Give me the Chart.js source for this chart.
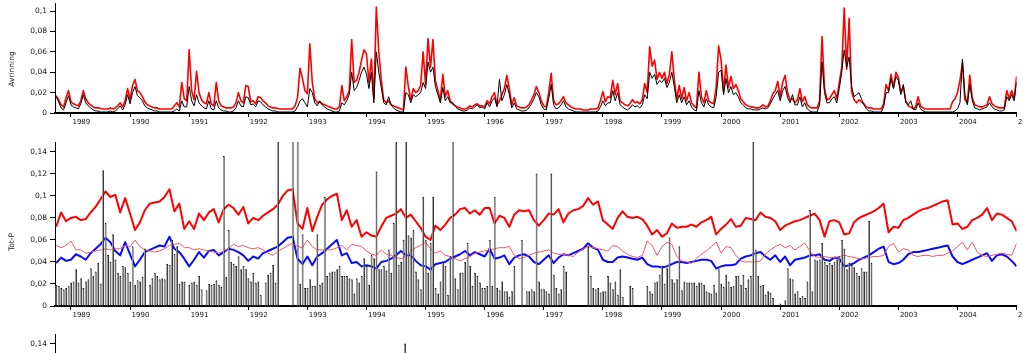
<!DOCTYPE html>
<html><head><meta charset="utf-8">
<script src="https://cdn.jsdelivr.net/npm/chart.js@4.4.1/dist/chart.umd.min.js"></script>
<style>
html,body{margin:0;padding:0;background:#fff;overflow:hidden;width:1023px;height:353px;}
canvas{position:absolute;left:0;}
</style></head><body>
<canvas id="c1" width="1023" height="130" style="top:0px"></canvas>
<canvas id="c2" width="1023" height="193" style="top:130px"></canvas>
<canvas id="c3" width="1023" height="193" style="top:322px"></canvas>
<script>
// ---- axis ----
const xMin = 1988.73, xMax = 2005;
const yearTicks = [1989,1990,1991,1992,1993,1994,1995,1996,1997,1998,1999,2000,2001,2002,2003,2004,2005];
const runoffTicks = [0,0.02,0.04,0.06,0.08,0.1];
const totPTicks = [0,0.02,0.04,0.06,0.08,0.1,0.12,0.14];

// ---- top panel: Avrinning, half-monthly from 1988.75 ----
const runoffStart = 1988.75, runoffStep = 1/24;
const runoffRed = [
0.017,0.013,0.008,0.006,0.015,0.022,0.011,0.009,0.008,0.007,
0.012,0.022,0.014,0.010,0.008,0.006,0.005,0.005,0.0045,0.004,
0.004,0.004,0.005,0.004,0.005,0.007,0.010,0.006,0.012,0.024,
0.013,0.027,0.033,0.022,0.020,0.016,0.011,0.008,0.007,0.006,
0.005,0.005,0.004,0.004,0.004,0.004,0.004,0.004,0.007,0.010,
0.006,0.030,0.014,0.012,0.062,0.022,0.013,0.041,0.020,0.013,
0.010,0.009,0.020,0.009,0.007,0.030,0.012,0.007,0.006,0.005,
0.005,0.005,0.006,0.010,0.020,0.012,0.010,0.027,0.026,0.011,
0.012,0.009,0.016,0.015,0.012,0.010,0.007,0.006,0.005,0.005,
0.0045,0.004,0.004,0.004,0.004,0.004,0.004,0.007,0.015,0.044,
0.034,0.022,0.019,0.068,0.030,0.014,0.010,0.011,0.009,0.008,
0.007,0.006,0.005,0.004,0.004,0.006,0.027,0.012,0.016,0.022,
0.072,0.030,0.032,0.040,0.052,0.062,0.058,0.030,0.053,0.014,
0.104,0.060,0.033,0.013,0.010,0.012,0.008,0.007,0.006,0.005,
0.004,0.003,0.045,0.026,0.013,0.024,0.020,0.022,0.027,0.060,
0.028,0.073,0.045,0.072,0.032,0.022,0.013,0.038,0.016,0.022,
0.012,0.009,0.007,0.006,0.005,0.004,0.004,0.005,0.007,0.006,
0.008,0.009,0.007,0.007,0.006,0.012,0.009,0.016,0.020,0.008,
0.012,0.018,0.024,0.037,0.024,0.008,0.015,0.007,0.006,0.005,
0.005,0.006,0.008,0.013,0.018,0.026,0.020,0.012,0.007,0.006,
0.020,0.039,0.012,0.008,0.009,0.012,0.016,0.010,0.008,0.006,
0.005,0.004,0.004,0.004,0.003,0.003,0.003,0.004,0.004,0.004,
0.005,0.012,0.021,0.011,0.016,0.015,0.032,0.018,0.029,0.012,
0.010,0.008,0.007,0.009,0.013,0.010,0.011,0.009,0.013,0.029,
0.020,0.065,0.046,0.052,0.033,0.040,0.034,0.040,0.029,0.038,
0.060,0.033,0.014,0.027,0.014,0.025,0.012,0.020,0.010,0.007,
0.005,0.040,0.016,0.010,0.022,0.012,0.010,0.009,0.025,0.066,
0.052,0.022,0.047,0.025,0.036,0.024,0.028,0.022,0.014,0.011,
0.008,0.007,0.006,0.006,0.005,0.005,0.006,0.008,0.006,0.007,
0.012,0.019,0.022,0.031,0.016,0.030,0.037,0.020,0.013,0.014,
0.010,0.013,0.024,0.011,0.016,0.008,0.006,0.005,0.005,0.005,
0.012,0.075,0.024,0.013,0.014,0.018,0.022,0.014,0.030,0.045,
0.103,0.043,0.093,0.021,0.013,0.010,0.013,0.011,0.009,0.006,
0.005,0.005,0.004,0.004,0.004,0.004,0.009,0.028,0.022,0.038,
0.025,0.040,0.035,0.020,0.026,0.012,0.007,0.006,0.004,0.006,
0.016,0.007,0.005,0.004,0.004,0.004,0.004,0.004,0.004,0.004,
0.004,0.004,0.004,0.004,0.011,0.014,0.020,0.032,0.049,0.013,
0.010,0.037,0.015,0.008,0.007,0.006,0.006,0.007,0.008,0.016,
0.009,0.007,0.006,0.005,0.005,0.005,0.022,0.014,0.022,0.014,
0.036];
const runoffBlack = [
0.016,0.011,0.005,0.003,0.010,0.017,0.008,0.006,0.005,0.004,
0.009,0.018,0.010,0.007,0.005,0.003,0.002,0.002,0.001,0.001,
0.001,0.001,0.002,0.001,0.002,0.004,0.007,0.003,0.008,0.018,
0.009,0.020,0.026,0.017,0.015,0.012,0.007,0.005,0.004,0.003,
0.002,0.002,0.001,0.001,0.001,0.001,0.001,0.001,0.002,0.004,
0.002,0.012,0.006,0.006,0.026,0.012,0.007,0.018,0.010,0.007,
0.005,0.004,0.012,0.004,0.003,0.012,0.005,0.003,0.002,0.002,
0.001,0.001,0.002,0.005,0.012,0.007,0.006,0.016,0.015,0.008,
0.009,0.006,0.012,0.011,0.008,0.006,0.004,0.003,0.002,0.002,
0.001,0.001,0.001,0.001,0.001,0.001,0.001,0.002,0.006,0.012,
0.014,0.010,0.006,0.024,0.020,0.010,0.007,0.012,0.008,0.006,
0.004,0.003,0.002,0.001,0.001,0.002,0.010,0.008,0.012,0.018,
0.040,0.022,0.025,0.032,0.040,0.045,0.038,0.024,0.040,0.010,
0.060,0.040,0.025,0.010,0.008,0.016,0.008,0.005,0.003,0.002,
0.001,0.001,0.020,0.018,0.010,0.018,0.016,0.018,0.020,0.030,
0.024,0.050,0.040,0.045,0.026,0.018,0.010,0.025,0.012,0.016,
0.010,0.010,0.007,0.004,0.003,0.002,0.002,0.003,0.005,0.004,
0.006,0.008,0.005,0.006,0.004,0.010,0.006,0.012,0.015,0.006,
0.033,0.012,0.018,0.028,0.018,0.005,0.010,0.004,0.003,0.002,
0.002,0.003,0.005,0.009,0.014,0.020,0.016,0.008,0.004,0.003,
0.014,0.028,0.008,0.004,0.005,0.008,0.012,0.006,0.004,0.003,
0.002,0.001,0.001,0.001,0.001,0.001,0.001,0.001,0.001,0.001,
0.002,0.006,0.012,0.007,0.010,0.010,0.022,0.012,0.020,0.008,
0.006,0.004,0.003,0.005,0.008,0.006,0.007,0.005,0.008,0.018,
0.014,0.040,0.034,0.038,0.028,0.032,0.030,0.034,0.025,0.030,
0.040,0.026,0.010,0.018,0.010,0.016,0.008,0.012,0.006,0.003,
0.002,0.022,0.010,0.006,0.014,0.008,0.006,0.005,0.016,0.040,
0.042,0.018,0.034,0.020,0.026,0.018,0.020,0.016,0.010,0.008,
0.005,0.004,0.004,0.003,0.003,0.003,0.004,0.005,0.004,0.005,
0.009,0.014,0.018,0.022,0.012,0.022,0.026,0.015,0.010,0.018,
0.008,0.008,0.016,0.006,0.010,0.004,0.002,0.001,0.001,0.001,
0.008,0.050,0.020,0.010,0.010,0.014,0.016,0.010,0.024,0.040,
0.062,0.045,0.055,0.026,0.016,0.018,0.020,0.014,0.008,0.004,
0.002,0.002,0.001,0.001,0.001,0.001,0.006,0.020,0.020,0.034,
0.024,0.036,0.032,0.018,0.028,0.010,0.008,0.012,0.004,0.003,
0.010,0.004,0.002,0.001,0.001,0.001,0.001,0.001,0.001,0.001,
0.001,0.001,0.001,0.001,0.001,0.002,0.004,0.010,0.053,0.018,
0.008,0.028,0.012,0.005,0.004,0.003,0.004,0.005,0.006,0.010,
0.006,0.004,0.003,0.002,0.002,0.003,0.016,0.012,0.018,0.012,
0.030];

// ---- middle panel: Tot-P lines, monthly from 1988.75 ----
const totPStart = 1988.75, totPStep = 1/12;
const totPRed = [
0.072,0.085,0.077,0.080,0.081,0.078,0.079,0.085,0.090,0.097,
0.104,0.099,0.101,0.085,0.098,0.084,0.069,0.076,0.087,0.093,
0.094,0.095,0.099,0.106,0.086,0.093,0.070,0.077,0.070,0.084,
0.078,0.085,0.088,0.076,0.088,0.092,0.089,0.083,0.090,0.075,
0.080,0.078,0.082,0.085,0.088,0.092,0.100,0.105,0.106,0.075,
0.070,0.089,0.068,0.081,0.092,0.097,0.100,0.102,0.078,0.087,
0.072,0.078,0.063,0.067,0.064,0.063,0.072,0.080,0.082,0.084,
0.088,0.080,0.083,0.077,0.071,0.063,0.060,0.073,0.069,0.074,
0.080,0.083,0.088,0.089,0.084,0.087,0.083,0.089,0.089,0.075,
0.082,0.080,0.072,0.083,0.087,0.086,0.087,0.078,0.073,0.078,
0.084,0.083,0.088,0.076,0.084,0.087,0.088,0.091,0.098,0.092,
0.095,0.078,0.074,0.070,0.080,0.086,0.081,0.080,0.081,0.079,
0.073,0.065,0.069,0.063,0.066,0.075,0.071,0.072,0.072,0.074,
0.072,0.076,0.078,0.081,0.065,0.070,0.074,0.079,0.072,0.073,
0.080,0.079,0.078,0.085,0.081,0.080,0.077,0.069,0.073,0.075,
0.077,0.078,0.080,0.082,0.084,0.078,0.063,0.077,0.078,0.076,
0.065,0.066,0.076,0.080,0.082,0.084,0.086,0.089,0.093,0.067,
0.072,0.071,0.078,0.080,0.083,0.086,0.088,0.089,0.091,0.093,
0.095,0.096,0.074,0.075,0.070,0.072,0.078,0.080,0.083,0.089,
0.078,0.084,0.083,0.080,0.077,0.068];
const totPBlue = [
0.039,0.044,0.041,0.042,0.047,0.045,0.042,0.048,0.052,0.056,
0.062,0.058,0.050,0.046,0.058,0.047,0.036,0.042,0.049,0.051,
0.053,0.055,0.054,0.063,0.052,0.049,0.043,0.036,0.042,0.049,
0.044,0.050,0.051,0.046,0.049,0.052,0.051,0.049,0.046,0.041,
0.045,0.043,0.048,0.050,0.052,0.054,0.058,0.062,0.063,0.043,
0.038,0.045,0.037,0.045,0.048,0.052,0.056,0.060,0.046,0.048,
0.039,0.040,0.036,0.037,0.036,0.034,0.040,0.041,0.043,0.046,
0.050,0.046,0.046,0.041,0.037,0.036,0.033,0.038,0.039,0.040,
0.043,0.045,0.047,0.050,0.046,0.049,0.047,0.045,0.052,0.043,
0.044,0.046,0.038,0.044,0.046,0.047,0.045,0.040,0.038,0.042,
0.046,0.039,0.044,0.047,0.046,0.048,0.050,0.052,0.057,0.053,
0.051,0.042,0.040,0.040,0.044,0.045,0.044,0.043,0.042,0.044,
0.038,0.036,0.036,0.035,0.036,0.038,0.040,0.040,0.039,0.040,
0.041,0.042,0.042,0.041,0.034,0.036,0.037,0.037,0.038,0.043,
0.045,0.046,0.048,0.049,0.045,0.042,0.046,0.040,0.045,0.037,
0.042,0.043,0.044,0.046,0.046,0.047,0.042,0.041,0.044,0.043,
0.036,0.037,0.039,0.042,0.044,0.046,0.049,0.052,0.054,0.040,
0.038,0.039,0.042,0.047,0.049,0.049,0.050,0.051,0.052,0.053,
0.054,0.055,0.045,0.040,0.038,0.040,0.042,0.044,0.046,0.048,
0.041,0.046,0.047,0.045,0.041,0.036];
const totPPink = [
0.055,0.053,0.055,0.059,0.051,0.051,0.048,0.049,0.050,0.051,
0.052,0.051,0.052,0.052,0.055,0.054,0.060,0.054,0.051,0.050,
0.049,0.050,0.052,0.055,0.056,0.057,0.053,0.053,0.051,0.052,
0.051,0.050,0.049,0.048,0.050,0.052,0.056,0.054,0.055,0.053,
0.052,0.053,0.051,0.048,0.046,0.050,0.052,0.055,0.057,0.054,
0.053,0.060,0.054,0.051,0.051,0.051,0.051,0.053,0.055,0.051,
0.056,0.055,0.054,0.050,0.047,0.046,0.051,0.047,0.046,0.044,
0.043,0.045,0.050,0.053,0.055,0.058,0.052,0.048,0.050,0.046,
0.045,0.043,0.041,0.043,0.045,0.048,0.049,0.050,0.051,0.052,
0.053,0.053,0.054,0.046,0.043,0.044,0.046,0.048,0.049,0.050,
0.051,0.048,0.047,0.047,0.046,0.045,0.049,0.052,0.054,0.053,
0.052,0.051,0.050,0.055,0.054,0.050,0.047,0.045,0.044,0.046,
0.059,0.055,0.046,0.054,0.058,0.056,0.045,0.041,0.040,0.039,
0.043,0.047,0.050,0.054,0.058,0.048,0.054,0.053,0.046,0.041,
0.040,0.040,0.040,0.041,0.047,0.051,0.054,0.056,0.053,0.055,
0.051,0.054,0.057,0.050,0.045,0.044,0.045,0.044,0.044,0.045,
0.046,0.045,0.044,0.043,0.043,0.044,0.045,0.045,0.046,0.054,
0.057,0.049,0.052,0.051,0.046,0.045,0.046,0.046,0.045,0.046,
0.046,0.048,0.050,0.054,0.058,0.051,0.058,0.049,0.046,0.045,
0.046,0.047,0.048,0.047,0.046,0.057];

// ---- middle panel: Tot-P samples (bars), half-monthly from 1988.75, null = no sample ----
const sampleStart = 1988.75, sampleStep = 1/24;
const totPSamples = [
0.019,0.018,0.016,0.015,0.016,0.018,0.021,0.022,0.033,0.021,
0.025,0.016,0.022,0.024,0.034,0.027,0.031,0.039,0.020,0.123,
0.075,0.046,0.040,0.065,0.042,0.030,0.027,0.036,0.035,0.030,
0.022,0.054,0.019,0.023,0.022,0.026,0.052,null,0.019,0.025,
0.030,0.027,0.024,0.025,0.024,0.038,0.037,0.060,0.047,0.054,
0.020,0.022,0.022,null,0.019,0.021,0.022,0.019,0.027,0.015,
null,0.014,0.020,0.019,0.020,0.023,0.019,0.017,0.136,0.026,
0.069,0.040,0.038,0.036,0.045,0.033,0.036,0.033,0.025,0.022,
0.030,0.021,0.022,0.010,null,0.021,0.028,0.030,0.037,0.021,
0.16,null,null,null,null,null,0.16,null,0.16,0.020,
0.065,0.016,0.016,0.024,0.018,0.018,0.065,0.019,0.021,0.099,
0.027,0.030,0.031,0.031,0.033,0.036,0.027,0.027,0.027,0.025,
0.024,0.011,0.025,0.021,0.027,0.043,0.036,0.019,0.046,0.043,
0.122,0.033,0.033,0.036,0.032,0.051,0.030,0.075,0.16,0.037,
0.040,0.060,0.16,0.064,0.062,0.069,0.031,0.024,0.015,0.099,
0.060,0.030,0.057,0.099,0.016,0.011,0.022,0.040,0.036,0.010,
0.045,0.16,0.025,0.015,0.030,0.030,0.040,0.057,0.036,0.018,
0.030,0.027,0.021,0.016,0.016,0.018,0.060,0.018,0.099,0.016,
0.014,0.022,0.013,0.013,0.008,0.013,0.036,null,null,0.060,
null,0.013,0.013,0.015,0.013,0.120,0.022,0.015,0.015,0.013,
0.011,0.120,0.028,0.016,0.011,0.015,0.036,0.031,null,null,
null,null,null,null,null,null,0.054,0.027,0.016,0.015,
0.016,0.012,0.013,0.013,0.027,0.021,0.015,0.022,0.010,0.033,
0.008,null,null,0.018,0.016,null,null,null,null,null,
0.018,0.013,0.011,0.021,0.022,0.028,0.036,0.020,0.034,0.062,
0.024,0.021,0.024,0.054,0.014,0.022,0.021,0.021,0.021,0.021,
0.018,0.021,0.021,0.019,0.013,0.012,0.011,0.019,0.012,0.033,
0.020,0.017,0.028,0.022,0.017,0.018,0.027,0.027,0.019,0.028,
0.016,0.024,0.027,0.16,0.051,0.027,0.018,0.019,0.010,0.013,
0.012,0.007,null,null,0.002,null,0.005,0.034,0.025,0.024,
0.011,0.013,0.007,0.009,0.007,0.022,0.087,0.013,0.042,0.041,
0.042,0.057,0.040,0.037,0.039,0.037,0.040,0.042,0.045,0.060,
0.052,0.033,0.039,0.037,0.035,0.030,0.027,0.034,0.031,0.031,
0.077,0.039];

// ---- third panel (only its top edge is visible) ----
const panel3Dates = [1994.65];
const panel3Values = [0.14];

// ---------------------------------------------------------------
Chart.defaults.font.family = '"DejaVu Sans", Verdana, sans-serif';
Chart.defaults.font.size = 7.5;
Chart.defaults.color = '#111';

function series(arr, start, step) {
  const out = [];
  arr.forEach((v, i) => { if (v !== null) out.push({x: start + i * step, y: v}); });
  return out;
}
const fmtY = v => String(Math.round(v * 1000) / 1000).replace('.', ',');

function xScale() {
  return {
    type: 'linear', min: xMin, max: xMax, offset: false,
    border: {color: '#000', width: 2},
    grid: {drawOnChartArea: false, drawTicks: true, tickLength: 4, color: '#000', offset: false},
    afterBuildTicks: s => { s.ticks = yearTicks.map(v => ({value: v})); },
    ticks: {align: 'start', labelOffset: 1.5, maxRotation: 0, minRotation: 0, autoSkip: false,
            padding: 1, font: {size: 7}, callback: v => String(v)},
    afterFit(s) { s.height = 17; s.paddingLeft = 0; s.paddingRight = 0; }
  };
}
function yScale(max, ticks) {
  return {
    type: 'linear', min: 0, max: max,
    border: {color: '#000', width: 1},
    grid: {drawOnChartArea: false, drawTicks: true, tickLength: 5, color: '#000'},
    afterBuildTicks: s => { s.ticks = ticks.map(v => ({value: v})); },
    ticks: {padding: 3, font: {size: 7.5}, callback: fmtY, autoSkip: false},
    afterFit(s) { s.width = 55; s.paddingTop = 0; s.paddingBottom = 0; }
  };
}
const yTitle = {
  id: 'yTitle',
  afterDraw(chart, args, opts) {
    if (!opts || !opts.text) return;
    const ctx = chart.ctx;
    ctx.save();
    ctx.font = '7.5px "DejaVu Sans", Verdana, sans-serif';
    ctx.fillStyle = '#111';
    ctx.textAlign = 'center';
    ctx.textBaseline = 'middle';
    ctx.translate(opts.x, opts.y);
    ctx.rotate(-Math.PI / 2);
    ctx.fillText(opts.text, 0, 0);
    ctx.restore();
  }
};
const common = (padTop, title) => ({
  responsive: false, animation: false, devicePixelRatio: 1, events: [],
  layout: {padding: {top: padTop, right: 6.4, left: 0, bottom: 0}},
  plugins: {legend: {display: false}, tooltip: {enabled: false}, yTitle: title}
});
const lineDs = (label, data, color, width, order) => ({
  type: 'line', label, data, borderColor: color, backgroundColor: color, borderWidth: width,
  pointRadius: 0, tension: 0, fill: false, order, borderJoinStyle: 'round'
});
const barDs = (label, data) => ({
  type: 'bar', label, data, barThickness: 1.5, backgroundColor: '#a0a0a0', borderColor: '#111',
  borderWidth: {top: 1, right: 1, left: 0, bottom: 0}, borderSkipped: false, order: 0
});

new Chart(document.getElementById('c1'), {
  type: 'line',
  data: {datasets: [
    lineDs('Avrinning (svart)', series(runoffBlack, runoffStart, runoffStep), '#000000', 1, 0),
    lineDs('Avrinning (röd)', series(runoffRed, runoffStart, runoffStep), '#ff0000', 1.6, 1)
  ]},
  options: Object.assign(common(3, {text: 'Avrinning', x: 12, y: 69}), {
    scales: {x: xScale(), y: yScale(0.108, runoffTicks)}
  }),
  plugins: [yTitle]
});

new Chart(document.getElementById('c2'), {
  type: 'bar',
  data: {datasets: [
    barDs('Tot-P prov', series(totPSamples, sampleStart, sampleStep)),
    lineDs('Tot-P (tunn)', series(totPPink, totPStart, totPStep), '#f25566', 1, 1),
    lineDs('Tot-P (blå)', series(totPBlue, totPStart, totPStep), '#0a0aff', 2, 2),
    lineDs('Tot-P (röd)', series(totPRed, totPStart, totPStep), '#ff0000', 2, 3)
  ]},
  options: Object.assign(common(12, {text: 'Tot-P', x: 12, y: 112}), {
    scales: {x: xScale(), y: yScale(0.149, totPTicks)}
  }),
  plugins: [yTitle]
});

new Chart(document.getElementById('c3'), {
  type: 'bar',
  data: {datasets: [
    barDs('Tot-P prov', panel3Dates.map((d, i) => ({x: d, y: panel3Values[i]})))
  ]},
  options: Object.assign(common(12, null), {
    scales: {x: xScale(), y: yScale(0.149, totPTicks)}
  }),
  plugins: [yTitle]
});
</script>
</body></html>
